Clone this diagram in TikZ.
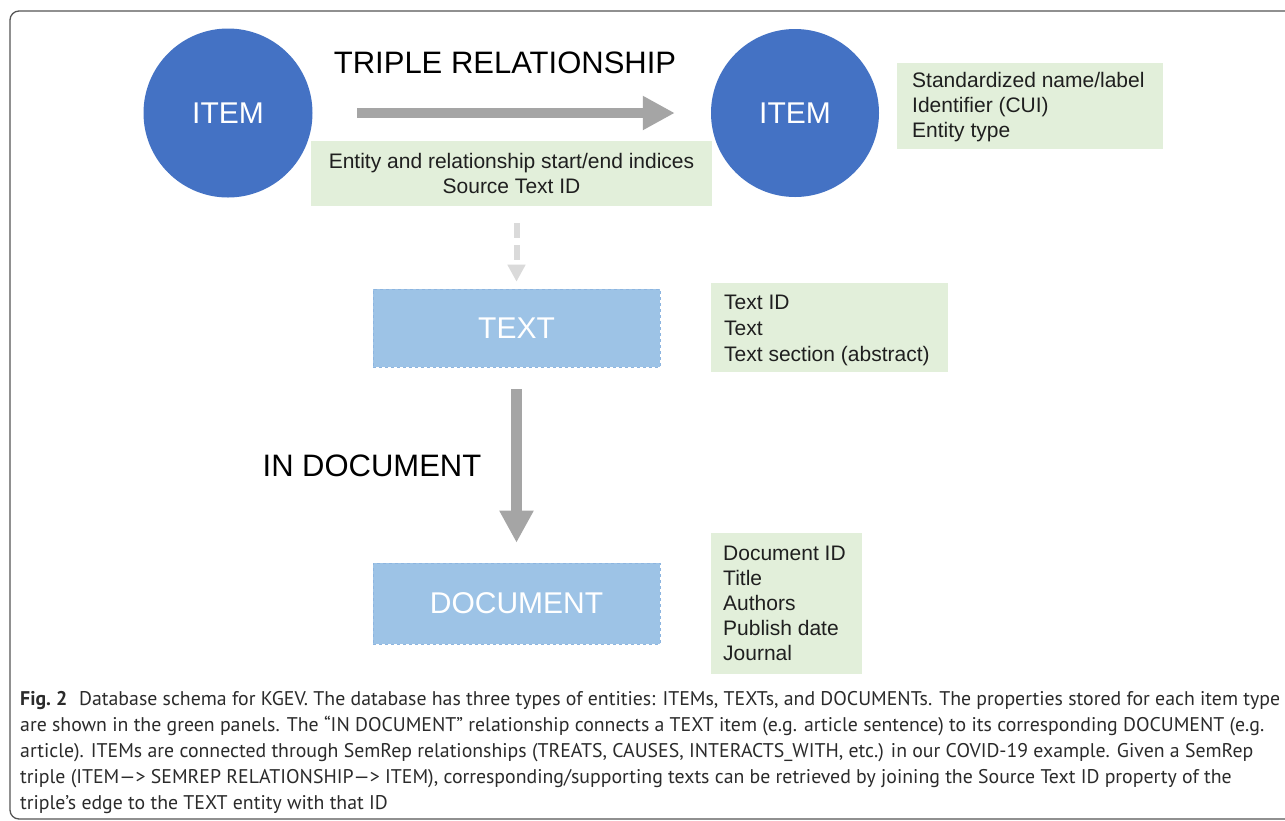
\documentclass[tikz,border=0pt]{standalone}
\usepackage{fontspec}
\setmainfont{Liberation Sans}
\newfontfamily\capfont{PT Sans}
\usetikzlibrary{arrows.meta}
\definecolor{itemblue}{HTML}{4472C4}
\definecolor{boxblue}{HTML}{9DC3E6}
\definecolor{boxedge}{HTML}{8DB5E0}
\definecolor{panelgreen}{HTML}{E2EFDA}
\definecolor{arrowgray}{HTML}{A5A5A5}
\definecolor{dashgray}{HTML}{DADADA}
\definecolor{framegray}{HTML}{555555}
\definecolor{captext}{HTML}{2B2B2B}
\begin{document}
\begin{tikzpicture}[x=1pt,y=-1pt,
  itemnode/.style={circle, fill=itemblue, inner sep=0pt, text=white, font=\fontsize{30}{36}\selectfont},
  entitybox/.style={rectangle, fill=boxblue, draw=boxedge, dashed, line width=0.6pt, minimum width=287pt, inner sep=0pt, text=white, font=\fontsize{30}{36}\selectfont},
  panel/.style={rectangle, fill=panelgreen, inner sep=0pt, anchor=north west},
  ptext/.style={font=\fontsize{21}{25}\selectfont, text=black!88, inner sep=0pt},
  reltext/.style={font=\fontsize{31}{37}\selectfont, inner sep=0pt},
  bigarrow/.style={draw=arrowgray, line width=10.5pt, -{Triangle[width=32pt,length=32pt]}},
  dasharrow/.style={draw=dashgray, line width=6pt, dash pattern=on 15pt off 7pt, -{Triangle[width=17pt,length=17pt]}},
  capline/.style={anchor=base west, inner sep=0pt, font=\capfont\fontsize{19.8}{26}\selectfont, text=captext}]
\useasboundingbox (0,0) rectangle (1285,820);
\clip (0,0) rectangle (1285,820);
\fill[white] (0,0) rectangle (1285,820);
% frame
\draw[framegray, line width=1.3pt, rounded corners=9pt] (10,11) rectangle (1310,819);

% items
\node[itemnode, minimum size=169pt] (item1) at (228,113) {ITEM};
\node[itemnode, minimum size=168pt] (item2) at (795,113) {ITEM};
\node[reltext] (triplelbl) at (505,62.5) {TRIPLE RELATIONSHIP};
\draw[bigarrow, shorten <=44.5pt, shorten >=36pt] (item1) -- (item2);

% relationship panel
\node[panel, minimum width=401pt, minimum height=65pt] (relpanel) at (311,141) {};
\node[ptext, anchor=base] (rel1) at (511.5,168) {Entity and relationship start/end indices};
\node[ptext, anchor=base] (rel2) at (511.5,193) {Source Text ID};

% item panel
\node[panel, minimum width=266pt, minimum height=86pt] (itempanel) at (897,63) {};
\node[ptext, anchor=base west] (ip1) at (912,87) {Standardized name/label};
\node[ptext, anchor=base west] (ip2) at (912,112) {Identifier (CUI)};
\node[ptext, anchor=base west] (ip3) at (912,137) {Entity type};

% text entity
\node[entitybox, minimum height=78pt] (textbox) at (516.5,328) {TEXT};
\draw[dasharrow, shorten <=17pt, shorten >=7pt] (relpanel.south -| textbox.north) -- (textbox.north);

\node[panel, minimum width=237pt, minimum height=89pt] (textpanel) at (711,283) {};
\node[ptext, anchor=base west] (tp1) at (724,309) {Text ID};
\node[ptext, anchor=base west] (tp2) at (724,335) {Text};
\node[ptext, anchor=base west] (tp3) at (724,361) {Text section (abstract)};

% document entity
\node[entitybox, minimum height=81pt] (docbox) at (516.5,603.5) {DOCUMENT};
\draw[bigarrow, shorten <=22pt, shorten >=20pt] (textbox.south) -- (docbox.north);
\node[reltext] (indoclbl) at (372,466) {IN DOCUMENT};

\node[panel, minimum width=151pt, minimum height=141pt] (docpanel) at (711,533) {};
\node[ptext, anchor=base west] (dp1) at (723,560) {Document ID};
\node[ptext, anchor=base west] (dp2) at (723,585) {Title};
\node[ptext, anchor=base west] (dp3) at (723,610) {Authors};
\node[ptext, anchor=base west] (dp4) at (723,635) {Publish date};
\node[ptext, anchor=base west] (dp5) at (723,660) {Journal};

% caption
\node[capline] (cap1) at (20,705) {{\bfseries Fig.~2}\hspace{0.6em}Database schema for KGEV. The database has three types of entities: ITEMs, TEXTs, and DOCUMENTs. The properties stored for each item type};
\node[capline] (cap2) at (20,731) {are shown in the green panels. The “IN DOCUMENT” relationship connects a TEXT item (e.g. article sentence) to its corresponding DOCUMENT (e.g.};
\node[capline] (cap3) at (20,757) {article). ITEMs are connected through SemRep relationships (TREATS, CAUSES, INTERACTS\_WITH, etc.) in our COVID-19 example. Given a SemRep};
\node[capline] (cap4) at (20,783) {triple (ITEM—> SEMREP RELATIONSHIP—> ITEM), corresponding/supporting texts can be retrieved by joining the Source Text ID property of the};
\node[capline] (cap5) at (20,809) {triple’s edge to the TEXT entity with that ID};
\end{tikzpicture}
\end{document}
